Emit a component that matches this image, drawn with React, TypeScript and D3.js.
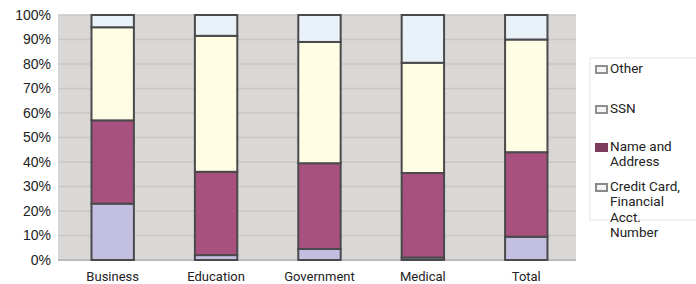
import { useEffect, useRef } from "react"
import * as d3 from "d3"

const categories = ["Business", "Education", "Government", "Medical", "Total"]
const creditCard = [23, 2, 4.5, 1, 9.5]
const nameAddress = [34, 34, 35, 34.5, 34.5]
const ssn = [38, 55.5, 49.5, 45, 46]
const other = [5, 8.5, 11, 19.5, 10]
const seriesNames = ["Credit Card, Financial Acct. Number", "Name and Address", "SSN", "Other"]
const legendLines = [["Other"], ["SSN"], ["Name and", "Address"], ["Credit Card,", "Financial", "Acct.", "Number"]]
const yTicks = [0, 10, 20, 30, 40, 50, 60, 70, 80, 90, 100]

const colors = ["#c3bfe0", "#a8507e", "#fffde4", "#e9f1f9"]
const legendColors = ["#8a8a8a", "#7c3b5d", "#8f8f8f", "#8f8f8f"]

export default function App() {
  const svgRef = useRef<SVGSVGElement>(null)

  useEffect(() => {
    if (!svgRef.current) return
    d3.select(svgRef.current).selectAll("*").remove()

    const width = 696
    const height = 284
    const left = 58
    const right = 576
    const top = 15
    const bottom = 260

    const svg = d3.select(svgRef.current).attr("width", width).attr("height", height)

    const x = d3
      .scaleBand()
      .domain(categories)
      .range([left, right])
      .paddingInner(0.59)
      .paddingOuter(0.3)
      .align(0.54)
    const y = d3.scaleLinear().domain([0, 100]).range([bottom, top])

    const rows = categories.map((c, i) => ({
      category: c,
      s0: creditCard[i],
      s1: nameAddress[i],
      s2: ssn[i],
      s3: other[i],
    }))
    const stack = d3.stack<any>().keys(["s0", "s1", "s2", "s3"])(rows)

    // plot background
    svg
      .append("rect")
      .attr("x", left)
      .attr("y", top)
      .attr("width", right - left)
      .attr("height", bottom - top)
      .style("fill", "#dad8d6")

    // gridlines
    svg
      .selectAll(".grid")
      .data(yTicks.slice(1))
      .enter()
      .append("line")
      .attr("x1", left)
      .attr("x2", right)
      .attr("y1", (d) => y(d))
      .attr("y2", (d) => y(d))
      .style("stroke", "#c9c7c5")
      .style("stroke-width", "1.5px")

    svg
      .append("line")
      .attr("x1", left)
      .attr("x2", right)
      .attr("y1", bottom)
      .attr("y2", bottom)
      .style("stroke", "#bdbbb9")
      .style("stroke-width", "2px")

    // y labels
    svg
      .selectAll(".ylab")
      .data(yTicks)
      .enter()
      .append("text")
      .attr("x", 51)
      .attr("y", (d) => y(d))
      .attr("dy", "0.35em")
      .attr("text-anchor", "end")
      .text((d) => d + "%")
      .style("font-family", "Liberation Sans, Arial, sans-serif")
      .style("font-size", "14px")
      .style("fill", "#222")

    // bars
    stack.forEach((layer, k) => {
      svg
        .selectAll(".seg" + k)
        .data(layer)
        .enter()
        .append("rect")
        .attr("x", (d: any) => x(d.data.category)!)
        .attr("y", (d) => y(d[1]))
        .attr("width", x.bandwidth())
        .attr("height", (d) => y(d[0]) - y(d[1]))
        .style("fill", colors[k])
        .style("stroke", "#4a4a4c")
        .style("stroke-width", "2px")
    })

    // x labels
    svg
      .selectAll(".xlab")
      .data(categories)
      .enter()
      .append("text")
      .attr("x", (d) => x(d)! + x.bandwidth() / 2)
      .attr("y", 281)
      .attr("text-anchor", "middle")
      .text((d) => d)
      .style("font-family", "Roboto, sans-serif")
      .style("font-size", "13px")
      .style("fill", "#222")

    // legend frame
    svg
      .append("rect")
      .attr("x", 590)
      .attr("y", 58)
      .attr("width", 110)
      .attr("height", 162)
      .style("fill", "none")
      .style("stroke", "#e6e6e6")
      .style("stroke-width", "1px")

    const legendY = [68, 108, 146, 186]
    const order = [3, 2, 1, 0]
    order.forEach((k, j) => {
      const ly = legendY[j]
      svg
        .append("rect")
        .attr("x", 596)
        .attr("y", ly - 2)
        .attr("width", 11)
        .attr("height", 7)
        .style("fill", k === 1 ? legendColors[k] : "#f4f4f4")
        .style("stroke", legendColors[k])
        .style("stroke-width", "2px")
      const t = svg
        .append("text")
        .attr("x", 610)
        .attr("y", ly)
        .style("font-family", "Roboto, sans-serif")
        .style("font-size", "13.5px")
        .style("fill", "#222")
        .attr("aria-label", seriesNames[k])
      legendLines[j].forEach((line, li) => {
        t.append("tspan")
          .attr("x", 610)
          .attr("dy", li === 0 ? "0.35em" : "15.5px")
          .text(line)
      })
    })
  }, [])

  return <svg ref={svgRef} style={{ position: "absolute", left: 0, top: 0 }}></svg>
}
